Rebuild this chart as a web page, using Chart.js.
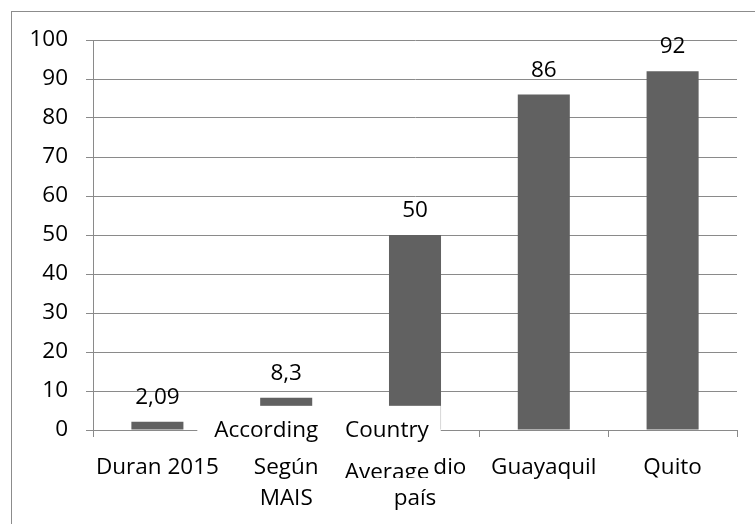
<!DOCTYPE html>
<html>
<head>
<meta charset="utf-8">
<script src="https://cdn.jsdelivr.net/npm/chart.js@4.4.0/dist/chart.umd.min.js"></script>
<style>
html,body{margin:0;padding:0;background:#fff;}
#wrap{position:relative;width:755px;height:524px;}
</style>
</head>
<body>
<div id="wrap"><canvas id="c"></canvas></div>
<script>
const categories = [["Duran 2015"], ["Según", "MAIS"], ["Promedio", "país"], ["Guayaquil"], ["Quito"]];
const values = [2.09, 8.3, 50, 86, 92];
const valueLabels = ["2,09", "8,3", "50", "86", "92"];
const yMin = 0, yMax = 100, yStep = 10;
const overlayTexts = ["According", "Country", "Average"];

const FONT = '"Open Sans", Lato, sans-serif';
const FS = 22.5;
const GRID = '#8a8a8a';
const BAR = '#616161';

const borderPlugin = {
  id: 'outerBorder',
  beforeDraw(chart) {
    const ctx = chart.ctx;
    ctx.save();
    ctx.fillStyle = '#fff';
    ctx.fillRect(0, 0, chart.width, chart.height);
    ctx.strokeStyle = '#8c8c8c';
    ctx.lineWidth = 1;
    ctx.strokeRect(11.5, 11.5, chart.width + 20, chart.height + 20);
    ctx.restore();
  }
};

const valueLabelPlugin = {
  id: 'valueLabels',
  afterDatasetsDraw(chart) {
    const ctx = chart.ctx;
    const meta = chart.getDatasetMeta(0);
    ctx.save();
    ctx.font = FS + 'px ' + FONT;
    ctx.fillStyle = '#000';
    ctx.textAlign = 'center';
    ctx.textBaseline = 'alphabetic';
    meta.data.forEach((bar, i) => {
      ctx.fillText(valueLabels[i], bar.x, bar.y - 18);
    });
    ctx.restore();
  }
};

const overlayPlugin = {
  id: 'overlayNotes',
  afterDraw(chart) {
    const ctx = chart.ctx;
    const xs = chart.scales.x, ys = chart.scales.y;
    const W = xs.getPixelForValue(1) - xs.getPixelForValue(0);
    const c1 = xs.getPixelForValue(1), c2 = xs.getPixelForValue(2);
    const top = ys.getPixelForValue(6.2);
    const base = ys.getPixelForValue(0);
    ctx.save();
    ctx.fillStyle = '#fff';
    const b1l = c1 - W * 0.69, b2r = c2 + W * 0.2;
    ctx.fillRect(b1l, top, b2r - b1l, base + 14 - top);
    ctx.fillStyle = '#000';
    ctx.font = FS + 'px ' + FONT;
    ctx.textAlign = 'center';
    ctx.textBaseline = 'alphabetic';
    ctx.fillText(overlayTexts[0], c1 - 20, base + 7);
    ctx.fillText(overlayTexts[1], c2 - 28, base + 7);
    const b3t = base + 22, b3b = base + 48;
    ctx.fillStyle = '#fff';
    ctx.fillRect(c2 - 75, b3t, 94, b3b - b3t);
    ctx.beginPath();
    ctx.rect(c2 - 75, b3t, 94, b3b - b3t);
    ctx.clip();
    ctx.fillStyle = '#000';
    ctx.fillText(overlayTexts[2], c2 - 28, base + 49);
    ctx.restore();
  }
};

new Chart(document.getElementById('c'), {
  type: 'bar',
  data: {
    labels: categories,
    datasets: [{
      data: values,
      backgroundColor: BAR,
      borderWidth: 0,
      barPercentage: 0.404,
      categoryPercentage: 1
    }]
  },
  options: {
    responsive: true,
    maintainAspectRatio: false,
    animation: false,
    devicePixelRatio: 1,
    layout: { padding: { top: 40, right: 18, left: 0, bottom: 0 } },
    plugins: { legend: { display: false }, tooltip: { enabled: false } },
    scales: {
      x: {
        grid: { offset: true, drawOnChartArea: false, color: GRID, tickLength: 7, lineWidth: 1 },
        border: { color: GRID, width: 1 },
        ticks: { color: '#000', font: { family: FONT, size: FS, lineHeight: 1.38 }, padding: 15, maxRotation: 0, autoSkip: false },
        afterFit(s) { s.height = 94; }
      },
      y: {
        min: yMin, max: yMax,
        grid: { color: GRID, tickLength: 7, lineWidth: 1 },
        border: { color: GRID, width: 1 },
        ticks: { stepSize: yStep, color: '#000', font: { family: FONT, size: FS }, padding: 18 },
        afterFit(s) { s.width = 93; }
      }
    }
  },
  plugins: [borderPlugin, valueLabelPlugin, overlayPlugin]
});
</script>
</body>
</html>
